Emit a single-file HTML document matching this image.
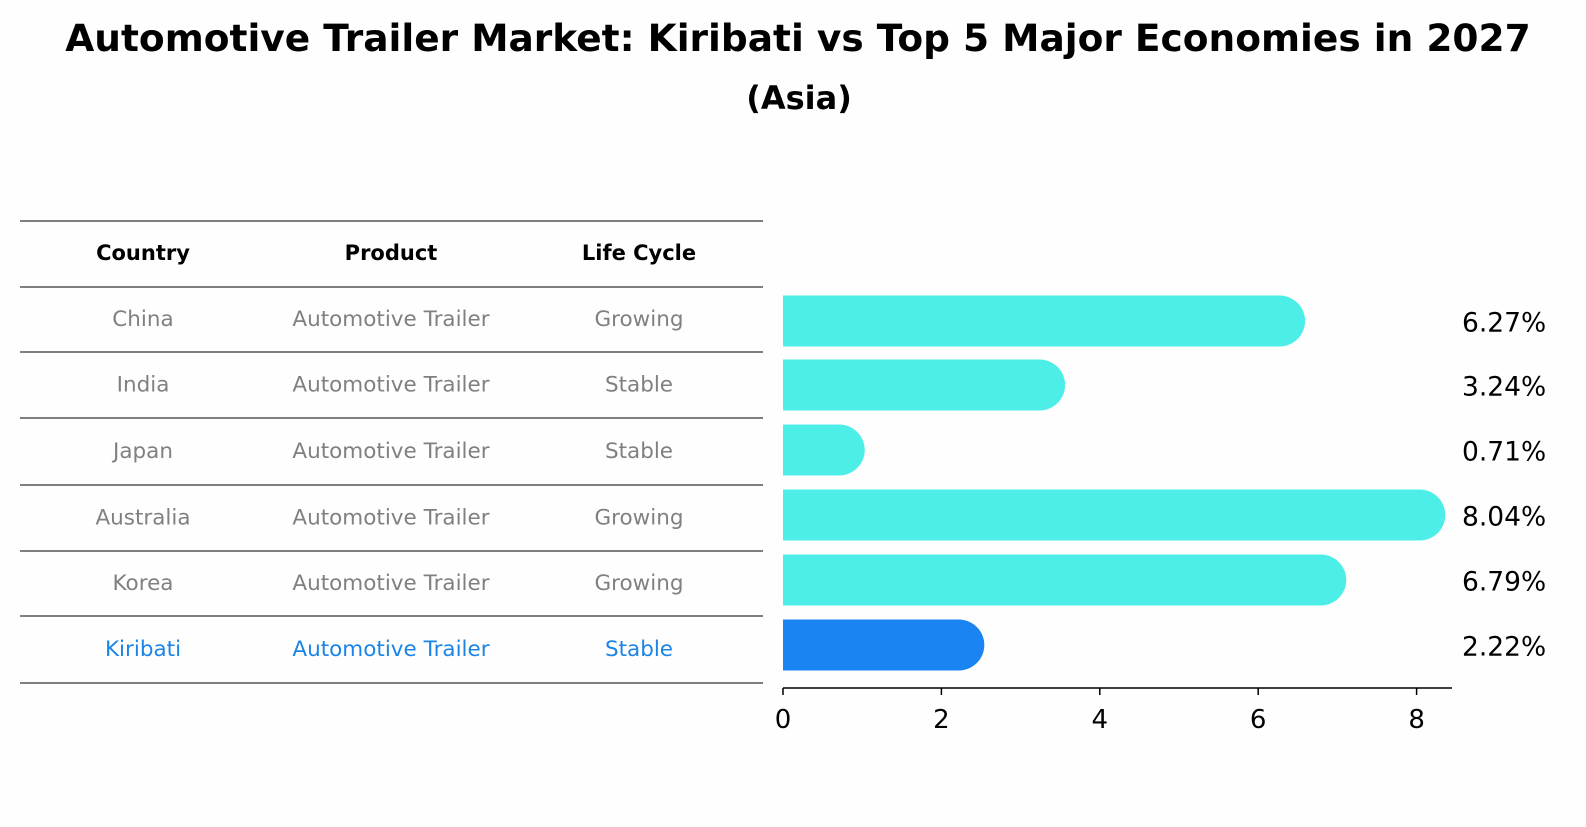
<!DOCTYPE html>
<html><head><meta charset="utf-8"><style>
body{margin:0;background:#fffefe;width:1586px;height:823px;overflow:hidden;font-family:"DejaVu Sans","Liberation Sans",sans-serif}
</style></head><body>
<svg width="1586" height="823" xmlns="http://www.w3.org/2000/svg" font-family="DejaVu Sans, Liberation Sans, sans-serif">
<rect width="1586" height="823" fill="#fffefe"/>
<text x="798" y="38" text-anchor="middle" dominant-baseline="central" font-size="37.5" font-weight="bold">Automotive Trailer Market: Kiribati vs Top 5 Major Economies in 2027</text>
<text x="799" y="98" text-anchor="middle" dominant-baseline="central" font-size="32" font-weight="bold">(Asia)</text>
<g id="table"></g>
<g id="chart"></g>
</svg>
<script>
const countries=["China","India","Japan","Australia","Korea","Kiribati"];
const products=["Automotive Trailer","Automotive Trailer","Automotive Trailer","Automotive Trailer","Automotive Trailer","Automotive Trailer"];
const lifeCycles=["Growing","Stable","Stable","Growing","Growing","Stable"];
const values=[6.27,3.24,0.71,8.04,6.79,2.22];
const xTicks=[0,2,4,6,8];
const NS="http://www.w3.org/2000/svg";
function mk(t,a,p){const e=document.createElementNS(NS,t);for(const k in a)e.setAttribute(k,a[k]);p.appendChild(e);return e;}
const tbl=document.getElementById('table'),ch=document.getElementById('chart');
const lineYs=[221,287,352,418,485,551,616,683];
const colX=[143,391,639];
lineYs.forEach((y,i)=>{const l=mk('line',{x1:20,x2:763,y1:y,y2:y,stroke:'#000','stroke-width':1},tbl);

});
["Country","Product","Life Cycle"].forEach((h,i)=>{const t=mk('text',{x:colX[i],y:253,'text-anchor':'middle','dominant-baseline':'central','font-size':21,'font-weight':'bold'},tbl);t.textContent=h;

});
const rowY=i=>(lineYs[i+1]+lineYs[i+2])/2;
countries.forEach((c,i)=>{const col=c==="Kiribati"?"#1a85e6":"#808080";
[c,products[i],lifeCycles[i]].forEach((v,j)=>{const t=mk('text',{x:colX[j],y:rowY(i),'text-anchor':'middle','dominant-baseline':'central','font-size':21.5,fill:col},tbl);t.textContent=v;

});});
const x0=783,ppu=79.2,xs=v=>x0+v*ppu;
const barH=51;
values.forEach((v,i)=>{const cy=[321,385,450,515,580,645][i];const col=countries[i]==="Kiribati"?"#1a85f2":"#4deee8";
const r=barH/2;const xe=xs(v);
const p=mk('path',{d:`M${x0},${cy-r}H${xe}A${r},${r} 0 0 1 ${xe},${cy+r}H${x0}Z`,fill:col},ch);


const t=mk('text',{x:1462,y:cy+2,'dominant-baseline':'central','font-size':26.5},ch);t.textContent=v.toFixed(2)+"%";

});
const ax=mk('line',{x1:x0,x2:1452,y1:688,y2:688,stroke:'#000','stroke-width':1.5},ch);


xTicks.forEach(v=>{const tk=mk('line',{x1:xs(v),x2:xs(v),y1:688,y2:695,stroke:'#000','stroke-width':1.5},ch);


const t=mk('text',{x:xs(v),y:720,'text-anchor':'middle','dominant-baseline':'central','font-size':26},ch);t.textContent=v;

});
</script>
</body></html>
